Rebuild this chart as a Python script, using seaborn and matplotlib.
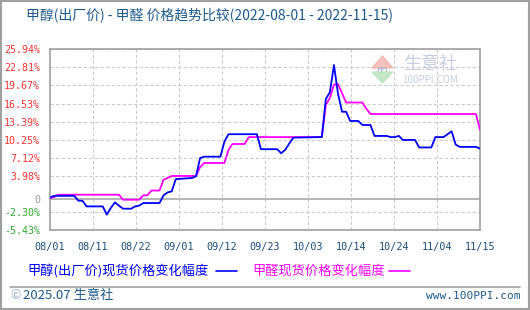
import numpy as np
import pandas as pd
import matplotlib
matplotlib.use("Agg")
import matplotlib.pyplot as plt
import seaborn as sns
from matplotlib.patches import Rectangle, Polygon
from matplotlib.lines import Line2D

# ---------------- data ----------------
start_date = "2022-08-01"
methanol_day = [0, 1, 6, 7, 8, 9, 13, 14, 15, 16, 17, 18, 20, 21, 22, 23, 27, 28, 29, 30,
                31, 35, 36, 37, 38, 42, 43, 44, 51, 52, 56, 57, 58, 59, 60, 67, 68, 69, 70,
                71, 72, 73, 74, 76, 77, 79, 80, 83, 84, 85, 86, 87, 90, 91, 94, 95, 97, 98,
                99, 100, 101, 105, 106]
methanol_pct = [0.2, 0.5, 0.5, -0.35, -0.35, -1.33, -1.33, -2.77, -1.6, -0.64, -1.2, -1.73,
                -1.73, -1.33, -1.2, -0.75, -0.75, 0.6, 1.1, 1.27, 3.4, 3.6, 3.9, 7.05, 7.3,
                7.3, 9.9, 11.2, 11.2, 8.6, 8.6, 7.9, 8.5, 9.6, 10.6, 10.7, 17.3, 18.5, 23.2,
                18.2, 15.1, 15.1, 13.5, 13.5, 12.8, 12.8, 10.9, 10.9, 10.7, 10.7, 10.9, 10.2,
                10.2, 8.9, 8.9, 10.7, 10.7, 11.2, 11.7, 9.4, 9.0, 9.0, 8.7]

formal_day = [0, 1, 2, 17, 18, 22, 23, 24, 25, 27, 28, 29, 30, 36, 37, 38, 43, 44, 45, 48,
              49, 67, 68, 69, 70, 71, 72, 73, 77, 78, 79, 105, 106]
formal_pct = [0.1, 0.3, 0.7, 0.7, -0.17, -0.17, 0.6, 0.6, 1.42, 1.42, 3.3, 3.6, 3.95, 3.95,
              5.5, 6.2, 6.2, 8.5, 9.5, 9.5, 10.7, 10.7, 16.3, 17.5, 19.8, 19.9, 18.3, 16.7,
              16.7, 15.6, 14.7, 14.7, 12.0]

ytick_vals = [25.94, 22.81, 19.67, 16.53, 13.39, 10.25, 7.12, 3.98, 0, -2.30, -5.43]
ytick_labels = ["25.94%", "22.81%", "19.67%", "16.53%", "13.39%", "10.25%", "7.12%",
                "3.98%", "0", "-2.30%", "-5.43%"]
xtick_labels = ["08/01", "08/11", "08/22", "09/01", "09/12", "09/23", "10/03", "10/14",
                "10/24", "11/04", "11/15"]
total_days = 106

title = "甲醇(出厂价) - 甲醛 价格趋势比较(2022-08-01 - 2022-11-15)"
legend_names = ["甲醇(出厂价)现货价格变化幅度", "甲醛现货价格变化幅度"]
series_colors = ["#0000ff", "#ff00ff"]

# ---------------- style ----------------
sns.set_theme(style="white")
plt.rcParams["font.family"] = ["Noto Sans CJK SC", "DejaVu Sans"]

W, H = 530, 310
fig = plt.figure(figsize=(W / 100, H / 100), dpi=100)
fig.patch.set_facecolor("white")

def fx(px):
    return px / W

def fy(py):
    return 1 - py / H

ax = fig.add_axes([fx(50), fy(230), fx(480) - fx(50), fy(49.3) - fy(230)])

df_m = pd.DataFrame({"day": methanol_day, "pct": methanol_pct})
df_f = pd.DataFrame({"day": formal_day, "pct": formal_pct})

# grid
xt = np.linspace(0, total_days, len(xtick_labels))
for x in xt[1:-1]:
    ax.axvline(x, color="#cccccc", lw=0.8, ls=(0, (3, 2)), zorder=0)
for y in ytick_vals:
    if y != 0:
        ax.axhline(y, color="#cccccc", lw=0.8, ls=(0, (3, 2)), zorder=0)
ax.axhline(0, color="#a8a8a8", lw=1.2, zorder=1)

sns.lineplot(data=df_f, x="day", y="pct", ax=ax, color=series_colors[1], lw=1.3,
             zorder=3, legend=False)
sns.lineplot(data=df_m, x="day", y="pct", ax=ax, color=series_colors[0], lw=1.3,
             zorder=4, legend=False)

ax.set_xlim(0, total_days)
ax.set_ylim(-5.43, 25.94)
ax.set_xlabel("")
ax.set_ylabel("")
ax.set_xticks(xt)
ax.set_xticklabels(xtick_labels, fontsize=7.3, color="#1a4f7a", family="DejaVu Sans Mono")
ax.set_yticks(ytick_vals)
ax.set_yticklabels(ytick_labels, fontsize=7.2, family="DejaVu Sans Mono")
for lbl, v in zip(ax.get_yticklabels(), ytick_vals):
    if v > 0:
        lbl.set_color("#ff3333")
    elif v < 0:
        lbl.set_color("#33aa33")
    else:
        lbl.set_color("#999999")
ax.tick_params(axis="x", length=0, pad=8.5)
ax.tick_params(axis="y", length=0, pad=7)
for s in ax.spines.values():
    s.set_color("#a0a0a0")
    s.set_linewidth(1.2)

# watermark
fig.patches.append(Polygon([[fx(372), fy(68)], [fx(393), fy(68)], [fx(382.5), fy(56)]],
                           closed=True, transform=fig.transFigure, color="#f3b3ad",
                           alpha=0.8, zorder=0.5))
fig.patches.append(Polygon([[fx(372), fy(72)], [fx(393), fy(72)], [fx(382.5), fy(83)]],
                           closed=True, transform=fig.transFigure, color="#b8e3b8",
                           alpha=0.8, zorder=0.5))
fig.text(fx(382.5), fy(70), "PPI", fontsize=5, color="#b0b8cc", ha="center", va="center",
         fontweight="bold")
fig.text(fx(430), fy(64), "生意社", fontsize=13, color="#c8cde0", ha="center", va="center")
fig.text(fx(430), fy(80), "100PPI.COM", fontsize=7, color="#c8cde0", ha="center",
         va="center")

# title
fig.text(fx(26), fy(15), title, fontsize=10, color="#1d5a8c", ha="left", va="center")

# legend
fig.text(fx(27), fy(271), legend_names[0], fontsize=9.5, color=series_colors[0],
         ha="left", va="center")
fig.add_artist(Line2D([fx(216), fx(237)], [fy(271), fy(271)], color=series_colors[0],
                      lw=1.2, transform=fig.transFigure))
fig.text(fx(252), fy(271), legend_names[1], fontsize=9.5, color=series_colors[1],
         ha="left", va="center")
fig.add_artist(Line2D([fx(389), fx(410)], [fy(271), fy(271)], color=series_colors[1],
                      lw=1.2, transform=fig.transFigure))

# footer
fig.add_artist(Line2D([fx(10), fx(520)], [fy(286.5), fy(286.5)], color="#a0a0a0",
                      lw=1.2, transform=fig.transFigure))
fig.text(fx(10), fy(296), "©", fontsize=9, color="#9ab0c8", ha="left", va="center")
fig.text(fx(23), fy(296), "2025.07 生意社", fontsize=9.5, color="#1d5a8c", ha="left",
         va="center")
fig.text(fx(520), fy(296), "www.100PPI.com", fontsize=8, color="#1d5a8c", ha="right",
         va="center", family="DejaVu Sans Mono")

# outer border
fig.patches.append(Rectangle((0.001, 0.002), 0.997, 0.995, transform=fig.transFigure,
                             fill=False, edgecolor="#a0a0a0", lw=1.5))

fig.savefig("out.png", dpi=100)
